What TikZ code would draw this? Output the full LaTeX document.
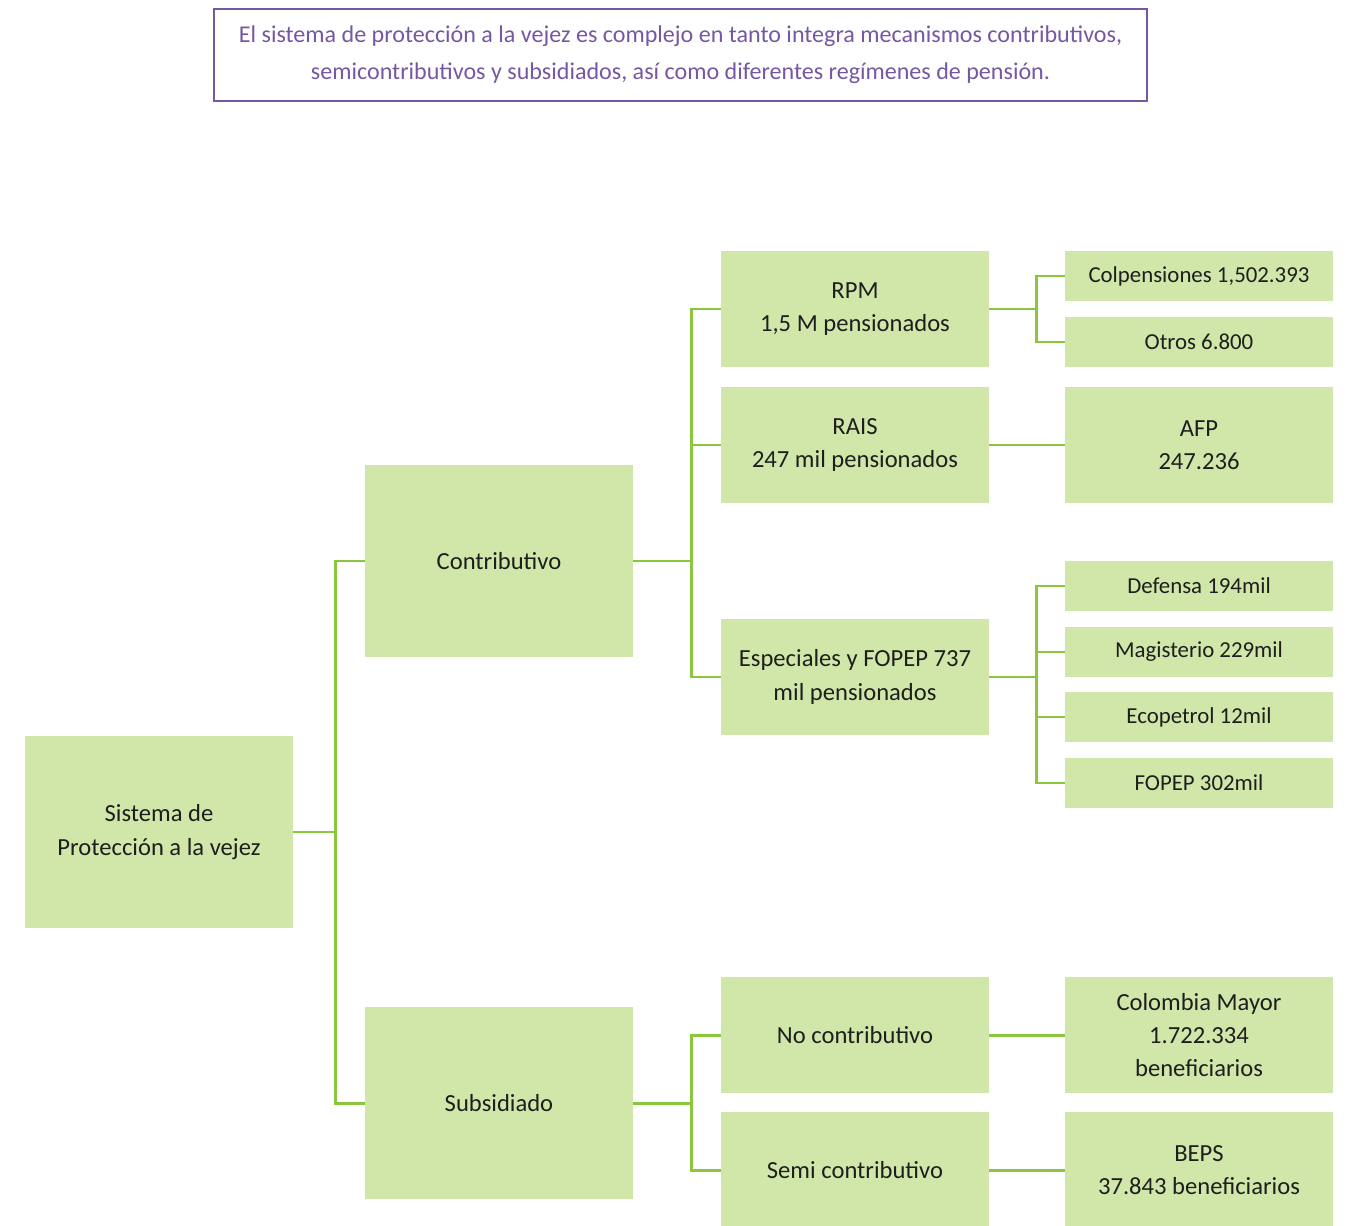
\documentclass[tikz,border=0pt]{standalone}
\usepackage{fontspec}
\setmainfont{Carlito}
\usetikzlibrary{positioning,calc}
\usepackage{xcolor}
\definecolor{Leaf}{HTML}{D1E7A9}
\definecolor{Lime}{HTML}{8CC63F}
\definecolor{Plum}{HTML}{7557A2}
\definecolor{Ink}{HTML}{1E1E1E}
\tikzset{
 box/.style={fill=Leaf, minimum width=5.36cm, align=center, inner sep=2pt, text=Ink, font=\fontsize{14}{19}\selectfont},
 bigbox/.style={box, minimum height=3.86cm},
 midbox/.style={box, minimum height=2.32cm},
 smallbox/.style={box, minimum height=1.0cm, font=\fontsize{13}{18}\selectfont},
 link/.style={draw=Lime, line width=1.7pt}
}

\begin{document}
\begin{tikzpicture}[x=0.02cm,y=-0.02cm]
\useasboundingbox (0,0) rectangle (1366,1226);
% note on top
\node[draw=Plum,line width=1.4pt,minimum width=18.66cm,minimum height=1.84cm,text=Plum,align=center,
 font=\fontsize{13.7}{21}\selectfont] (note) at (680.5,55) {El sistema de protección a la vejez es complejo en tanto integra mecanismos contributivos,\\
semicontributivos y subsidiados, así como diferentes regímenes de pensión.};

% level 1 and 2
\node[bigbox] (root) at (159,832) {Sistema de\\Protección a la vejez};
\node[bigbox] (contrib) at (499,561) {Contributivo};
\node[bigbox] (subsid) at (499,1103) {Subsidiado};

% level 3
\node[midbox] (rpm) at (855,309) {RPM\\1,5 M pensionados};
\node[midbox] (rais) at (855,445) {RAIS\\247 mil pensionados};
\node[midbox] (espec) at (855,677) {Especiales y FOPEP 737\\mil pensionados};
\node[midbox] (nocon) at (855,1035) {No contributivo};
\node[midbox] (semi) at (855,1170) {Semi contributivo};

% level 4
\node[smallbox] (colp) at (1199,276) {Colpensiones 1,502.393};
\node[smallbox] (otros) at (1199,342) {Otros 6.800};
\node[midbox] (afp) at (1199,445) {AFP\\247.236};
\node[smallbox] (def) at (1199,586) {Defensa 194mil};
\node[smallbox] (mag) at (1199,652) {Magisterio 229mil};
\node[smallbox] (eco) at (1199,717) {Ecopetrol 12mil};
\node[smallbox] (fopep) at (1199,783) {FOPEP 302mil};
\node[midbox] (colm) at (1199,1035) {Colombia Mayor\\1.722.334\\beneficiarios};
\node[midbox] (beps) at (1199,1170) {BEPS\\37.843 beneficiarios};

% connectors
\foreach \kid in {contrib,subsid}
 \draw[link] (root.east) -- ++(42,0) |- (\kid.west);
\foreach \kid in {rpm,rais,espec}
 \draw[link] (contrib.east) -- ++(58,0) |- (\kid.west);
\foreach \kid in {nocon,semi}
 \draw[link] (subsid.east) -- ++(58,0) |- (\kid.west);
\foreach \kid in {colp,otros}
 \draw[link] (rpm.east) -- ++(47,0) |- (\kid.west);
\foreach \kid in {def,mag,eco,fopep}
 \draw[link] (espec.east) -- ++(47,0) |- (\kid.west);
\draw[link] (rais) -- (afp);
\draw[link] (nocon) -- (colm);
\draw[link] (semi) -- (beps);
\end{tikzpicture}
\end{document}
